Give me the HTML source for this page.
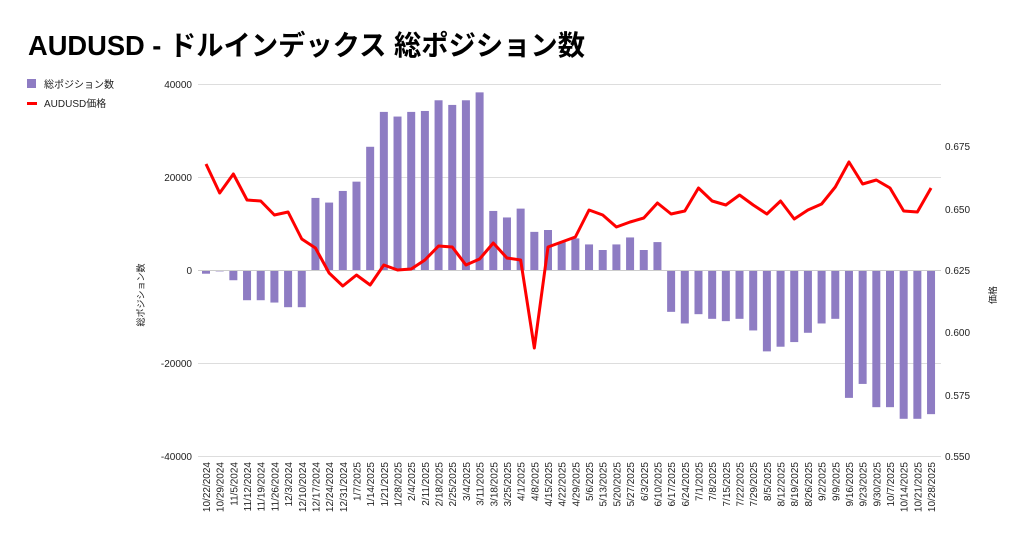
<!DOCTYPE html>
<html><head><meta charset="utf-8"><style>
body{margin:0;background:#fff;width:1024px;height:540px;overflow:hidden;font-family:"Liberation Sans","Noto Sans CJK JP",sans-serif}
</style></head><body>
<svg id="s" width="1024" height="540" xmlns="http://www.w3.org/2000/svg" font-family="Liberation Sans, Noto Sans CJK JP, sans-serif">
<text x="28" y="55" font-size="28" font-weight="bold" fill="#000" textLength="557" lengthAdjust="spacingAndGlyphs">AUDUSD - ドルインデックス 総ポジション数</text>
<rect x="27" y="79" width="9" height="9" fill="#8e7cc3"/>
<text x="44" y="88" font-size="10" fill="#222">総ポジション数</text>
<rect x="27" y="102" width="10" height="3" fill="#f00"/>
<text x="44" y="107" font-size="10" fill="#222">AUDUSD価格</text>
<g stroke="#ddd" stroke-width="1">
<line x1="198" x2="941" y1="84.5" y2="84.5"/><line x1="198" x2="941" y1="177.5" y2="177.5"/>
<line x1="198" x2="941" y1="363.5" y2="363.5"/><line x1="198" x2="941" y1="456.5" y2="456.5"/>
</g>
<g font-size="10" fill="#222" text-anchor="end">
<text x="192" y="88">40000</text><text x="192" y="181">20000</text><text x="192" y="274">0</text>
<text x="192" y="367">-20000</text><text x="192" y="460">-40000</text>
</g>
<g font-size="10" fill="#222">
<text x="945" y="150">0.675</text><text x="945" y="213">0.650</text><text x="945" y="274">0.625</text>
<text x="945" y="336">0.600</text><text x="945" y="399">0.575</text><text x="945" y="460">0.550</text>
</g>
<text transform="translate(144,295) rotate(-90)" font-size="9" fill="#222" text-anchor="middle">総ポジション数</text>
<text transform="translate(996,295) rotate(-90)" font-size="9" fill="#222" text-anchor="middle">価格</text>
<g id="bars" fill="#8e7cc3"></g>
<line x1="198" x2="941" y1="270.5" y2="270.5" stroke="#ccc"/>
<polyline id="ln" fill="none" stroke="#f00" stroke-width="3" stroke-linejoin="round"/>
<g id="lab" font-size="10" fill="#222" text-anchor="end"></g>
</svg>
<script>
var L=["10/22/2024","10/29/2024","11/5/2024","11/12/2024","11/19/2024","11/26/2024","12/3/2024","12/10/2024","12/17/2024","12/24/2024","12/31/2024","1/7/2025","1/14/2025","1/21/2025","1/28/2025","2/4/2025","2/11/2025","2/18/2025","2/25/2025","3/4/2025","3/11/2025","3/18/2025","3/25/2025","4/1/2025","4/8/2025","4/15/2025","4/22/2025","4/29/2025","5/6/2025","5/13/2025","5/20/2025","5/27/2025","6/3/2025","6/10/2025","6/17/2025","6/24/2025","7/1/2025","7/8/2025","7/15/2025","7/22/2025","7/29/2025","8/5/2025","8/12/2025","8/19/2025","8/26/2025","9/2/2025","9/9/2025","9/16/2025","9/23/2025","9/30/2025","10/7/2025","10/14/2025","10/21/2025","10/28/2025"];
var V=[-800,-300,-2200,-6500,-6500,-7000,-8000,-8000,15500,14500,17000,19000,26500,34000,33000,34000,34200,36500,35500,36500,38200,12700,11300,13200,8200,8600,6000,6800,5500,4300,5500,7000,4300,6000,-9000,-11500,-9500,-10500,-11000,-10500,-13000,-17500,-16500,-15500,-13500,-11500,-10500,-27500,-24500,-29500,-29500,-32000,-32000,-31000];
var P=[164,193,174,200,201,215,212,239,248,273,286,275,285,265,270,269,260,246,247,265,259,243,258,260,348,247,242,237,210,215,227,222,218,203,214,211,188,201,205,195,205,214,201,219,210,204,187,162,184,180,188,211,212,188];
var NS="http://www.w3.org/2000/svg",b=document.getElementById("bars"),lb=document.getElementById("lab"),pts=[];
for(var i=0;i<54;i++){var x=206+i*13.68,y=270-V[i]*93/20000;
var r=document.createElementNS(NS,"rect");r.setAttribute("x",x-4);r.setAttribute("width",8);
r.setAttribute("y",Math.min(y,270));r.setAttribute("height",Math.max(Math.abs(y-270),1));b.appendChild(r);
pts.push(x+","+P[i]);
var t=document.createElementNS(NS,"text");t.setAttribute("transform","translate("+(x+4)+",462) rotate(-90)");t.textContent=L[i];lb.appendChild(t);}
document.getElementById("ln").setAttribute("points",pts.join(" "));
</script>
</body></html>
